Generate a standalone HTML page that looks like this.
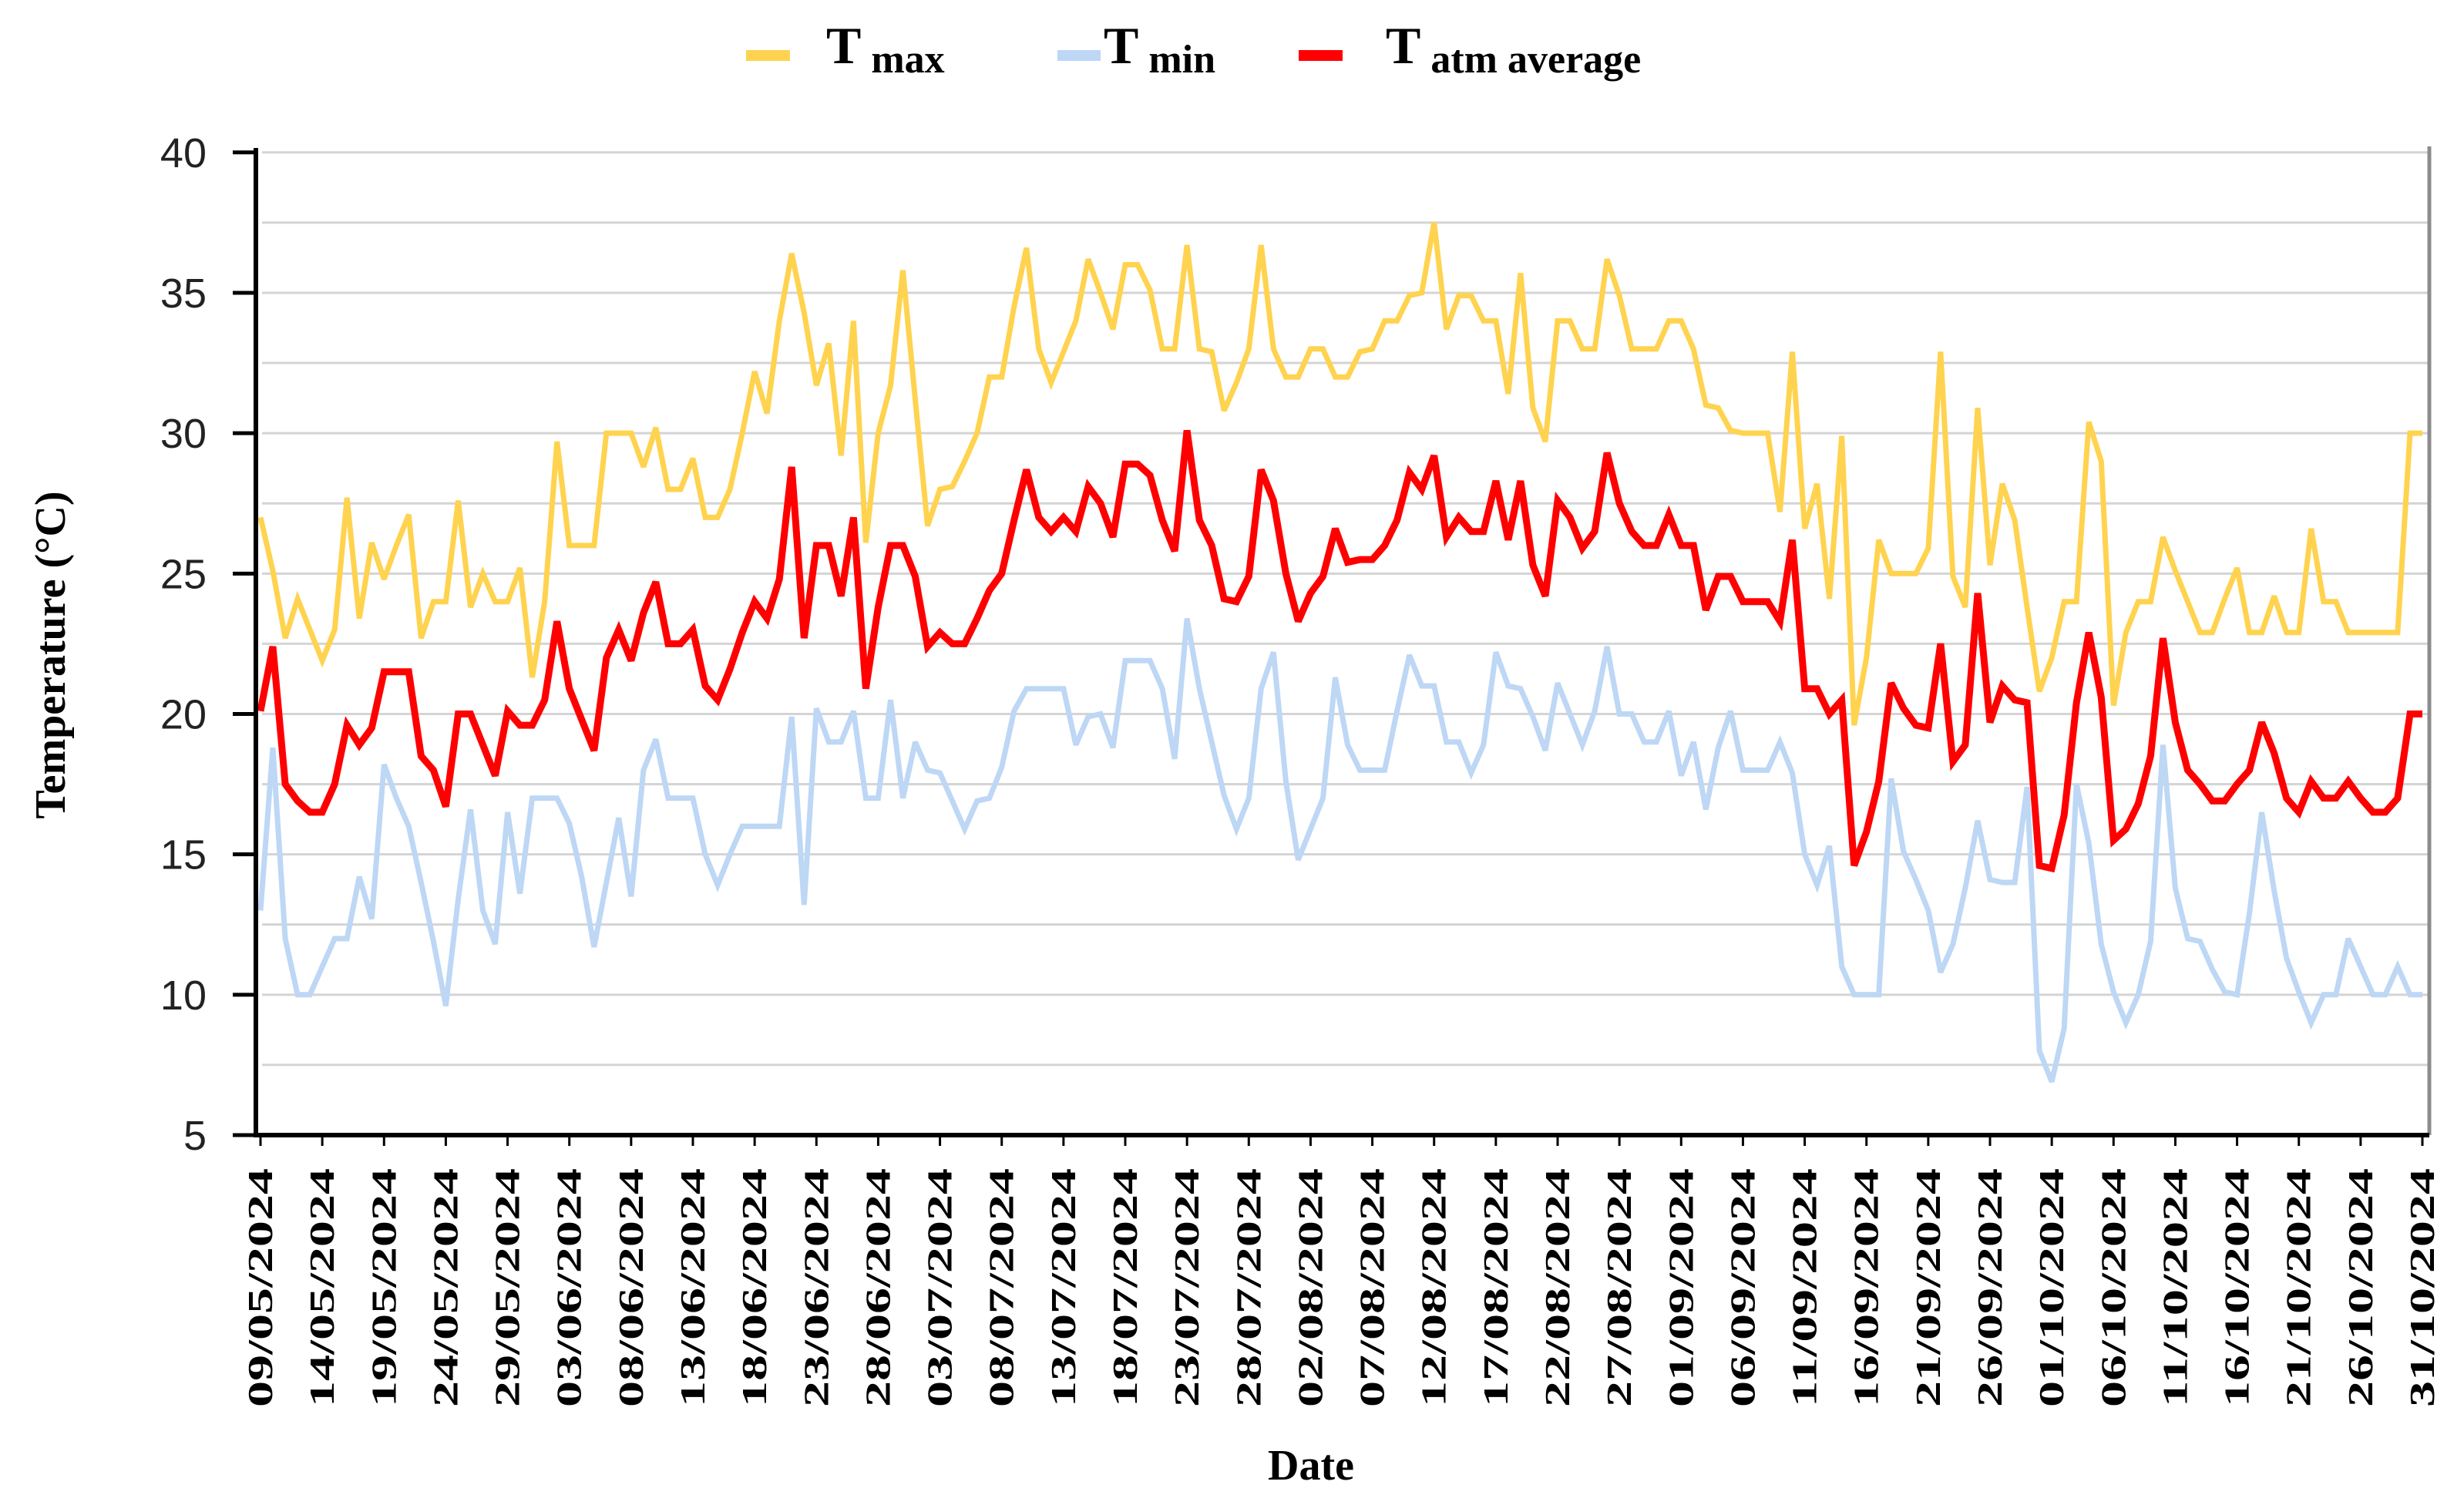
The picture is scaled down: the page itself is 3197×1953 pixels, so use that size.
<!DOCTYPE html>
<html><head><meta charset="utf-8">
<style>
html,body{margin:0;padding:0;background:#fff;}
svg{display:block;}
</style></head>
<body>
<svg id="chart" width="3197" height="1953" viewBox="0 0 3197 1953" xmlns="http://www.w3.org/2000/svg">
  <g font-family="Liberation Serif, serif" font-weight="bold" fill="#000">
    <g>
      <line x1="968" y1="72" x2="1025" y2="72" stroke="#FFD34F" stroke-width="14"/>
      <text x="1072" y="82" font-size="68">T<tspan font-size="52" dy="12"> max</tspan></text>
    </g>
    <g>
      <line x1="1372" y1="72" x2="1428" y2="72" stroke="#BDD7F5" stroke-width="14"/>
      <text x="1432" y="82" font-size="68">T<tspan font-size="52" dy="12"> min</tspan></text>
    </g>
    <g>
      <line x1="1685" y1="72" x2="1742" y2="72" stroke="#FF0000" stroke-width="14"/>
      <text x="1798" y="82" font-size="68">T<tspan font-size="52" dy="12"> atm average</tspan></text>
    </g>
  </g>
  <g id="grid"></g>
  <g id="series"></g>
  <g id="axes"></g>
  <text transform="translate(84,850) rotate(-90)" text-anchor="middle" font-family="Liberation Serif, serif" font-weight="bold" font-size="56">Temperature (°C)</text>
  <text x="1701" y="1920" text-anchor="middle" font-family="Liberation Serif, serif" font-weight="bold" font-size="56">Date</text>
</svg>
<script>
const tmaxValues = [27,25.1,22.7,24.1,23,21.9,23,27.7,23.4,26.1,24.8,26,27.1,22.7,24,24,27.6,23.8,25,24,24,25.2,21.3,24,29.7,26,26,26,30,30,30,28.8,30.2,28,28,29.1,27,27,28,30,32.2,30.7,34,36.4,34.3,
31.7,33.2,29.2,34,26.1,30,31.7,35.8,31.2,26.7,28,28.1,29,30,32,32,34.5,36.6,33,31.8,32.9,34,36.2,35,33.7,36,36,35.1,33,33,36.7,33,32.9,30.8,31.8,33,36.7,33,32,32,33,33,32,32,
32.9,33,34,34,34.9,35,37.5,33.7,34.9,34.9,34,34,31.4,35.7,30.9,29.7,34,34,33,33,36.2,34.9,33,33,33,34,34,33,31,30.9,30.1,30,30,30,27.2,32.9,26.6,28.2,24.1,29.9,19.6,22,26.2,
25,25,25,25.9,32.9,24.9,23.8,30.9,25.3,28.2,26.9,23.8,20.8,22,24,24,30.4,29,20.3,22.9,24,24,26.3,25.1,24,22.9,22.9,24.1,25.2,22.9,22.9,24.2,22.9,22.9,26.6,24,24,22.9,22.9,22.9,22.9,22.9,30,30];
const tminValues = [13,18.8,12,10,10,11,12,12,14.2,12.7,18.2,17,16,14,11.9,9.6,13.4,16.6,13,11.8,16.5,13.6,17,17,17,16.1,14.2,11.7,14,16.3,13.5,18,19.1,17,17,17,15,13.9,15,16,16,16,16,19.9,13.2,
20.2,19,19,20.1,17,17,20.5,17,19,18,17.9,16.9,15.9,16.9,17,18.1,20.1,20.9,20.9,20.9,20.9,18.9,19.9,20,18.8,21.9,21.9,21.9,20.9,18.4,23.4,20.9,19,17.1,15.9,17,20.9,22.2,17.6,14.8,15.9,17,21.3,18.9,
18,18,18,20.1,22.1,21,21,19,19,17.9,18.9,22.2,21,20.9,19.9,18.7,21.1,20,18.9,20.1,22.4,20,20,19,19,20.1,17.8,19,16.6,18.8,20.1,18,18,18,19,17.9,15,13.9,15.3,11,10,10,10,
17.7,15.1,14.1,13,10.8,11.8,13.8,16.2,14.1,14,14,17.4,8,6.9,8.8,17.5,15.4,11.8,10.1,9,10,11.9,18.9,13.8,12,11.9,10.9,10.1,10,12.9,16.5,13.7,11.3,10.1,9,10,10,12,11,10,10,11,10,10];
const tavgValues = [20.1,22.4,17.5,16.9,16.5,16.5,17.5,19.6,18.9,19.5,21.5,21.5,21.5,18.5,18,16.7,20,20,18.9,17.8,20.1,19.6,19.6,20.5,23.3,20.9,19.8,18.7,22,23,21.9,23.6,24.7,22.5,22.5,23,21,20.5,21.6,22.9,24,23.4,24.8,28.8,22.7,
26,26,24.2,27,20.9,23.8,26,26,24.9,22.4,22.9,22.5,22.5,23.4,24.4,25,26.9,28.7,27,26.5,27,26.5,28.1,27.5,26.3,28.9,28.9,28.5,26.9,25.8,30.1,26.9,26,24.1,24,24.9,28.7,27.6,25,23.3,24.3,24.9,26.6,25.4,
25.5,25.5,26,26.9,28.6,28,29.2,26.3,27,26.5,26.5,28.3,26.2,28.3,25.3,24.2,27.6,27,25.9,26.5,29.3,27.5,26.5,26,26,27.1,26,26,23.7,24.9,24.9,24,24,24,23.3,26.2,20.9,20.9,20,20.5,14.6,15.8,17.6,
21.1,20.2,19.6,19.5,22.5,18.3,18.9,24.3,19.7,21,20.5,20.4,14.6,14.5,16.4,20.4,22.9,20.6,15.5,15.9,16.8,18.5,22.7,19.7,18,17.5,16.9,16.9,17.5,18,19.7,18.6,17,16.5,17.6,17,17,17.6,17,16.5,16.5,17,20,20];
const yTickLabels = ["5","10","15","20","25","30","35","40"];
const startDate = [2024, 4, 9]; // 9 May 2024

const NS = "http://www.w3.org/2000/svg";
const X0 = 338, X1 = 3143, YMIN = 5, YMAX = 40, PY_TOP = 197.8, PY_BOT = 1473;
const n = tmaxValues.length;
function xScale(i){ return X0 + i * (X1 - X0) / (n - 1); }
function yScale(v){ return PY_BOT - (v - YMIN) * (PY_BOT - PY_TOP) / (YMAX - YMIN); }
function mk(tag, attrs, parent){ const e = document.createElementNS(NS, tag); for (const k in attrs) e.setAttribute(k, attrs[k]); parent.appendChild(e); return e; }

const grid = document.getElementById('grid');
for (let v = YMIN + 2.5; v <= YMAX + 0.01; v += 2.5) {
  const l = mk('line', {x1: 340, x2: 3150, y1: yScale(v), y2: yScale(v), stroke: '#d4d4d4', 'stroke-width': 3}, grid);
  
  
}
const rb = mk('line', {x1: 3152, x2: 3152, y1: 190, y2: 1473, stroke: '#8c8c8c', 'stroke-width': 5}, grid);



const series = document.getElementById('series');
function drawLine(vals, color, w, name){
  const pts = vals.map((v, i) => xScale(i).toFixed(1) + ',' + yScale(v).toFixed(1)).join(' ');
  const p = mk('polyline', {points: pts, fill: 'none', stroke: color, 'stroke-width': w, 'stroke-linejoin': 'miter', 'stroke-miterlimit': 3}, series);
  
  
}
drawLine(tmaxValues, '#FFD34F', 7, 'tmax-line');
drawLine(tminValues, '#BDD7F5', 7, 'tmin-line');
drawLine(tavgValues, '#FF0000', 9, 'tavg-line');

const axes = document.getElementById('axes');
const ya = mk('line', {x1: 332, x2: 332, y1: 192, y2: 1476, stroke: '#000', 'stroke-width': 6}, axes);


const xa = mk('line', {x1: 329, x2: 3152, y1: PY_BOT, y2: PY_BOT, stroke: '#000', 'stroke-width': 6}, axes);


yTickLabels.forEach(lbl => {
  const v = parseFloat(lbl), y = yScale(v);
  const t = mk('line', {x1: 302, x2: 332, y1: y, y2: y, stroke: '#000', 'stroke-width': 5}, axes);
  
  
  const tx = mk('text', {x: 268, y: y + 19, 'text-anchor': 'end', 'font-family': 'Liberation Sans, sans-serif', 'font-size': 54, fill: '#222'}, axes);
  tx.textContent = lbl;
  
  
});
function pad(x){ return (x < 10 ? '0' : '') + x; }
for (let i = 0; i < n; i += 5) {
  const d = new Date(startDate[0], startDate[1], startDate[2] + i);
  const lbl = pad(d.getDate()) + '/' + pad(d.getMonth() + 1) + '/' + d.getFullYear();
  const x = xScale(i);
  const tk = mk('line', {x1: x, x2: x, y1: PY_BOT, y2: PY_BOT + 14, stroke: '#000', 'stroke-width': 3}, axes);
  
  
  const tx = mk('text', {transform: 'translate(' + (x + 15) + ',1516) rotate(-90)', 'text-anchor': 'end', 'font-family': 'Liberation Serif, serif', 'font-weight': 'bold', 'font-size': 46, textLength: 310, lengthAdjust: 'spacingAndGlyphs', fill: '#000'}, axes);
  tx.textContent = lbl;
  
  
}
</script>
</body></html>
